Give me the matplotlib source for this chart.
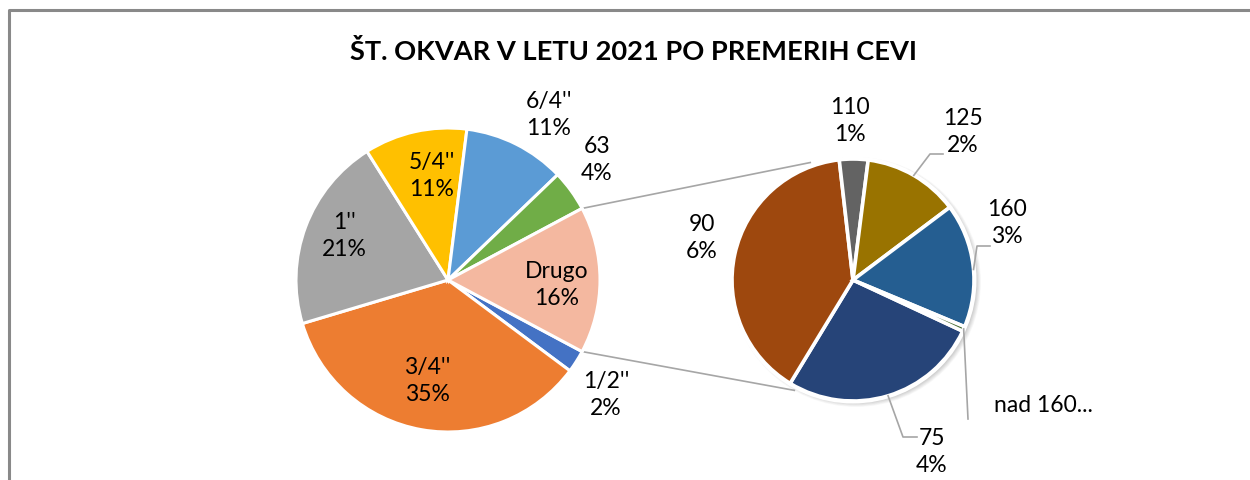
import numpy as np
import matplotlib.pyplot as plt
from matplotlib.patches import Circle

# podatki: glavni krog
main_labels = ["1/2''", "3/4''", "1''", "5/4''", "6/4''", "63"]
main_values = [24, 354, 208, 110, 109, 44]
main_colors = ["#4472C4", "#ED7D31", "#A5A5A5", "#FFC000", "#5B9BD5", "#70AD47"]

# podatki: drugi krog (Drugo)
sec_labels = ["75", "90", "110", "125", "160", "nad 160..."]
sec_values = [42, 62, 6, 20, 26, 1]
sec_colors = ["#264478", "#9E480E", "#636363", "#997300", "#255E91", "#43682B"]

other_label = "Drugo"
other_color = "#F4B8A0"
title = "ŠT. OKVAR V LETU 2021 PO PREMERIH CEVI"

W, H = 1250, 481
plt.rcParams['font.family'] = ['Lato', 'DejaVu Sans']

fig = plt.figure(figsize=(W / 100, H / 100), dpi=100)
ax = fig.add_axes([0, 0, 1, 1])

def Y(y):
    return H - y

total = sum(main_values) + sum(sec_values)
other_val = sum(sec_values)
vals1 = main_values + [other_val]
cols1 = main_colors + [other_color]
labs1 = main_labels + [other_label]

c1 = (448, Y(281)); r1 = 152
c2 = (853, Y(281)); r2 = 121

other_deg = other_val / total * 360
wedges1, _ = ax.pie(vals1, colors=cols1, startangle=-other_deg / 2, counterclock=False,
                    center=c1, radius=r1, frame=True,
                    wedgeprops=dict(edgecolor="white", linewidth=2.2))

# senca drugega kroga
for k in range(8):
    ax.add_patch(Circle((c2[0] + 3, c2[1] - 2), r2 + 4 - k * 0.6, color="#000000",
                        alpha=0.025, lw=0, zorder=0.5))
ax.add_patch(Circle(c2, r2 + 2.5, color="white", lw=0, zorder=0.6))
wedges2, _ = ax.pie(sec_values, colors=sec_colors, startangle=-25, counterclock=False,
                    center=c2, radius=r2, frame=True,
                    wedgeprops=dict(edgecolor="white", linewidth=2.6))

# povezovalne crte
def edge(c, r, deg):
    a = np.radians(deg)
    return c[0] + r * np.cos(a), c[1] + r * np.sin(a)

for a1, a2 in [(other_deg / 2, 110), (-other_deg / 2, -118)]:
    p = edge(c1, r1, a1); q = edge(c2, r2 + 4, a2)
    ax.plot([p[0], q[0]], [p[1], q[1]], color="#A6A6A6", lw=1.2, zorder=0.4)

def pct(v):
    return f"{round(100 * v / total):.0f}%"

fs = 16.5
# polozaji oznak (px od zgoraj)
pos1 = [(606, 395), (427, 381), (344, 236), (432, 176), (549, 115), (597, 160), (557, 285)]
for lab, v, (x, y) in zip(labs1, vals1, pos1):
    ax.text(x, Y(y), f"{lab}\n{pct(v)}", ha="center", va="center", fontsize=fs,
            linespacing=1.3, color="black", zorder=5)

pos2 = [(932, 452), (702, 238), (850, 121), (963, 132), (1007, 223), (1043, 406)]
for lab, v, (x, y) in zip(sec_labels, sec_values, pos2):
    txt = lab if lab.startswith("nad") else f"{lab}\n{pct(v)}"
    ax.text(x, Y(y), txt, ha="center", va="center", fontsize=fs,
            linespacing=1.3, color="black", zorder=5)

# vodilne crte
mids = []
acc = -25
for v in sec_values:
    d = v / sum(sec_values) * 360
    mids.append(acc - d / 2)
    acc -= d
leaders = {0: [(903, 438), (917, 438)], 3: [(930, 155), (943, 155)],
           4: [(977, 247), (990, 247)], 5: [(968, 420)]}
for i, pts in leaders.items():
    p = edge(c2, r2, mids[i] if i != 4 else 5)
    xs = [p[0]] + [q[0] for q in pts]
    ys = [p[1]] + [Y(q[1]) for q in pts]
    ax.plot(xs, ys, color="#A6A6A6", lw=1.2, zorder=4)

ax.text(633, Y(51), title, ha="center", va="center", fontsize=19.6,
        fontweight="bold", color="black")

# okvir
ax.plot([9, 9, W], [0, Y(11), Y(11)], color="#898989", lw=2.2, zorder=6)

ax.set_xlim(0, W)
ax.set_ylim(0, H)
ax.set_aspect("equal")
ax.axis("off")
fig.savefig("out.png", dpi=100)
